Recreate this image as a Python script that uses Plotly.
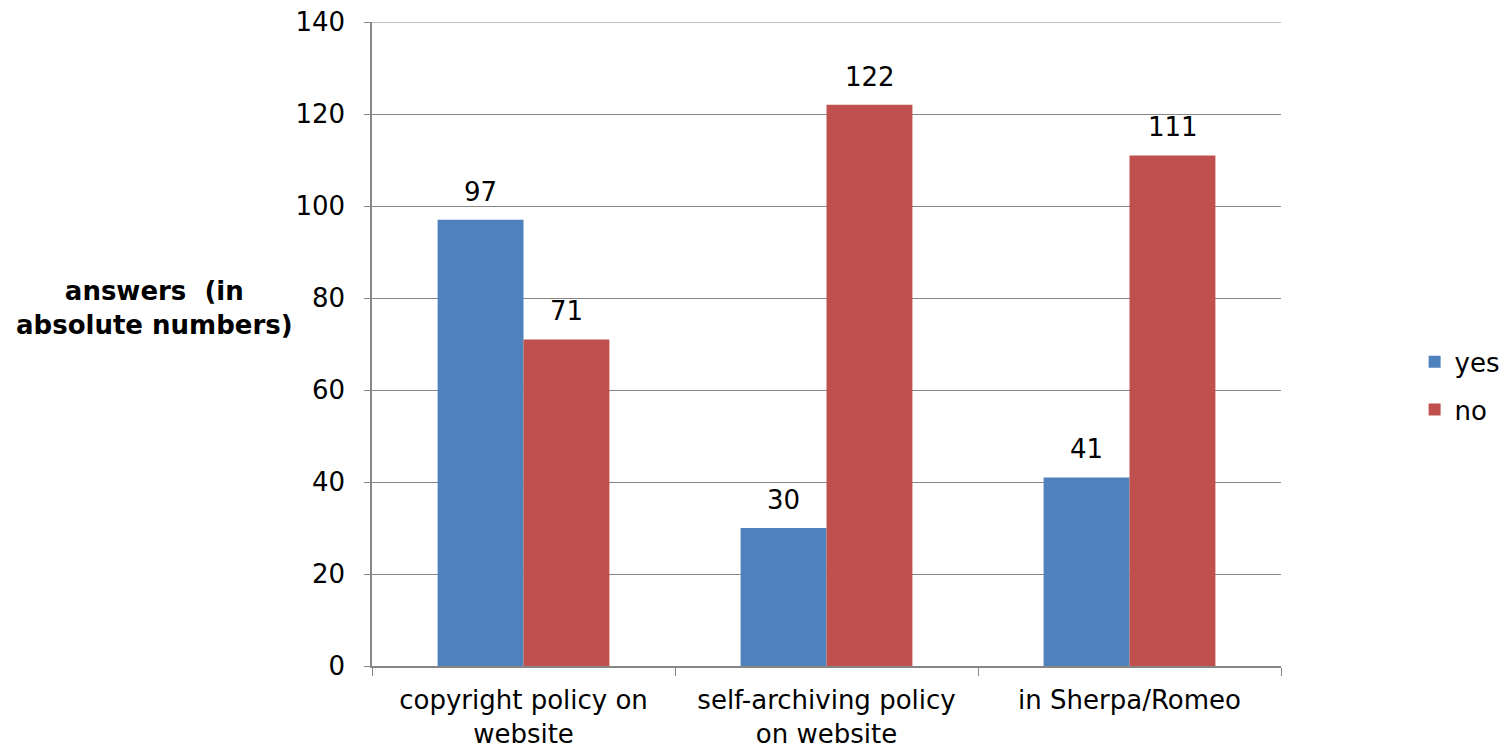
import plotly.graph_objects as go

categories = ["copyright policy on<br>website", "self-archiving policy<br>on website", "in Sherpa/Romeo"]
yes_values = [97, 30, 41]
no_values = [71, 122, 111]
y_ticks = [0, 20, 40, 60, 80, 100, 120, 140]

FONT = "DejaVu Sans, Verdana, sans-serif"
FS = 26
GRID = "#868686"

fig = go.Figure()
fig.add_trace(go.Bar(name="yes", x=categories, y=yes_values, marker_color="#4F81BD",
                     marker_line_width=0, legendgroup="a"))
fig.add_trace(go.Bar(name="no", x=categories, y=no_values, marker_color="#C0504D",
                     marker_line_width=0, legendgroup="b"))

# data labels, placed on the data values through the axes
for cat, yv, nv in zip(categories, yes_values, no_values):
    fig.add_annotation(x=cat, y=yv, text=str(yv), showarrow=False, xshift=-43, yshift=28,
                       yanchor="middle", font=dict(size=FS, color="black", family=FONT))
    fig.add_annotation(x=cat, y=nv, text=str(nv), showarrow=False, xshift=43, yshift=28,
                       yanchor="middle", font=dict(size=FS, color="black", family=FONT))

# top gridline (plotly drops the gridline at the exact range end)
fig.add_shape(type="line", xref="paper", x0=0, x1=1, yref="y", y0=y_ticks[-1], y1=y_ticks[-1],
              line=dict(color=GRID, width=1.2), layer="below")

fig.update_layout(
    width=1511, height=746,
    paper_bgcolor="white", plot_bgcolor="white",
    font=dict(family=FONT, size=FS, color="black"),
    margin=dict(l=364, r=238, t=14, b=88, autoexpand=False),
    barmode="group", bargap=0.433, bargroupgap=0,
    legend=dict(x=1.147, y=0.435, xanchor="left", yanchor="middle",
                font=dict(size=FS), itemsizing="constant", tracegroupgap=11,
                traceorder="grouped"),
    showlegend=True,
)
fig.update_xaxes(showline=True, linecolor=GRID, linewidth=1.5, automargin=False,
                 ticks="outside", tickson="boundaries", ticklen=8, tickcolor=GRID,
                 tickfont=dict(size=FS), showgrid=False, ticklabelstandoff=10,
                 ticklabeloverflow="allow")
fig.update_yaxes(range=[0, 140], tickvals=y_ticks, showline=True, linecolor=GRID, linewidth=1.5,
                 automargin=False, ticks="outside", ticklen=6, tickcolor=GRID,
                 showgrid=True, gridcolor=GRID, gridwidth=1.2,
                 zeroline=False, tickfont=dict(size=FS), ticklabelstandoff=14,
                 ticklabeloverflow="allow")
fig.add_annotation(text="<b>answers  (in<br>absolute numbers)</b>", xref="paper", yref="paper",
                   x=-0.239, y=0.556, xanchor="center", yanchor="middle", showarrow=False,
                   font=dict(size=FS, family=FONT, color="black"), align="center")

fig.write_html("out.html")
